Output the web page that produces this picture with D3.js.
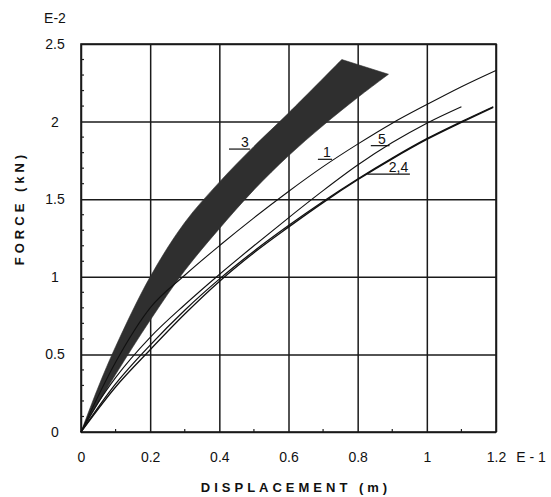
<!DOCTYPE html>
<html>
<head>
<meta charset="utf-8">
<script src="https://cdn.jsdelivr.net/npm/d3@7"></script>
<style>
	body { margin: 0; background: #fff; }
	svg text { font-family: "Liberation Sans", Arial, sans-serif; fill: #111; }
</style>
</head>
<body>
<div id="chart"></div>
<script>
// displacement in E-1 m, force in E-2 kN (as printed on the axes)
const xTicks = [0, 0.2, 0.4, 0.6, 0.8, 1, 1.2]
const xTickLabels = ["0", "0.2", "0.4", "0.6", "0.8", "1", "1.2"]
const yTicks = [0, 0.5, 1, 1.5, 2, 2.5]
const yTickLabels = ["0", "0.5", "1", "1.5", "2", "2.5"]

// curve 3 is a shaded band: upper and lower edges
const band3Upper = [[0, 0], [0.05, 0.29], [0.1, 0.55], [0.2, 1.0], [0.3, 1.35], [0.4, 1.61], [0.5, 1.84], [0.6, 2.055], [0.754, 2.40]]
const band3Lower = [[0, 0], [0.1, 0.37], [0.2, 0.72], [0.3, 1.04], [0.4, 1.31], [0.5, 1.56], [0.6, 1.78], [0.7, 1.975], [0.8, 2.155], [0.889, 2.305]]

const curve1 = [[0, 0], [0.1, 0.45], [0.2, 0.80], [0.3, 1.01], [0.4, 1.2], [0.5, 1.38], [0.6, 1.55], [0.7, 1.71], [0.8, 1.855], [0.9, 1.99], [1.0, 2.11], [1.1, 2.225], [1.2, 2.33]]
const curve5 = [[0, 0], [0.05, 0.19], [0.1, 0.35], [0.2, 0.61], [0.3, 0.82], [0.4, 1.015], [0.5, 1.20], [0.6, 1.38], [0.7, 1.555], [0.8, 1.72], [0.9, 1.865], [1.0, 1.99], [1.1, 2.096]]
const curve2 = [[0, 0], [0.1, 0.31], [0.2, 0.56], [0.3, 0.785], [0.4, 0.985], [0.5, 1.165], [0.6, 1.33], [0.7, 1.485], [0.8, 1.63], [0.9, 1.765], [1.0, 1.89], [1.1, 2.0], [1.192, 2.096]]
const curve4 = [[0, 0], [0.1, 0.29], [0.2, 0.53], [0.3, 0.76], [0.4, 0.97], [0.5, 1.155], [0.6, 1.32], [0.7, 1.478], [0.8, 1.625], [0.9, 1.76], [1.0, 1.885], [1.1, 1.995], [1.192, 2.092]]

// label text, leader line from x0 to x1 at force f, text centred at tx
const curveLabels = [
	{ text: "3", x0: 0.428, x1: 0.489, f: 1.823, tx: 0.474 },
	{ text: "1", x0: 0.685, x1: 0.726, f: 1.757, tx: 0.711 },
	{ text: "5", x0: 0.838, x1: 0.892, f: 1.845, tx: 0.870 },
	{ text: "2,4", x0: 0.828, x1: 0.951, f: 1.662, tx: 0.918 }
]

const svg = d3.select("#chart").append("svg")
	.attr("width", 551)
	.attr("height", 497)

const xs = d3.scaleLinear().domain([0, 1.2]).range([81, 496])
const ys = d3.scaleLinear().domain([0, 2.5]).range([432, 44])

// minor ticks inside the frame
const xMinor = d3.range(1, 12, 2).map(d => d / 10)
const yMinor = d3.range(1, 25).map(d => d / 10).filter(d => Math.abs(d * 2 - Math.round(d * 2)) > 1e-6)

svg.append("g").selectAll("line")
	.data(xMinor).enter().append("line")
		.attr("x1", d => xs(d)).attr("x2", d => xs(d))
		.attr("y1", ys(0)).attr("y2", ys(0) - 3)
		.attr("stroke", "#222").attr("stroke-width", 1.2)

svg.append("g").selectAll("line")
	.data(yMinor).enter().append("line")
		.attr("x1", xs(0)).attr("x2", xs(0) + 3)
		.attr("y1", d => ys(d)).attr("y2", d => ys(d))
		.attr("stroke", "#222").attr("stroke-width", 1.2)

// grid + tick labels
const xAxis = svg.append("g")
	.attr("transform", "translate(0," + ys(0) + ")")
	.call(d3.axisBottom(xs)
		.tickValues(xTicks)
		.tickSize(-(ys(0) - ys(2.5)))
		.tickPadding(20)
		.tickFormat((d, i) => xTickLabels[i]))
xAxis.select(".domain").remove()

const yAxis = svg.append("g")
	.attr("transform", "translate(" + xs(0) + ",0)")
	.call(d3.axisLeft(ys)
		.tickValues(yTicks)
		.tickSize(-(xs(1.2) - xs(0)))
		.tickPadding(20)
		.tickFormat((d, i) => yTickLabels[i]))
yAxis.select(".domain").remove()

svg.selectAll(".tick line").attr("stroke", "#1a1a1a").attr("stroke-width", 1.5)
svg.selectAll(".tick text")
	.attr("font-size", 14)
	.attr("fill", "#111")
	.style("font-family", "'Liberation Sans', Arial, sans-serif")
yAxis.selectAll(".tick text").attr("text-anchor", "middle").attr("x", 55 - xs(0))

// frame
svg.append("rect")
	.attr("x", xs(0)).attr("y", ys(2.5))
	.attr("width", xs(1.2) - xs(0)).attr("height", ys(0) - ys(2.5))
	.attr("fill", "none").attr("stroke", "#1a1a1a").attr("stroke-width", 1.6)

// band 3
const edge = d3.line().x(d => xs(d[0])).y(d => ys(d[1])).curve(d3.curveCatmullRom)
const upperPath = edge(band3Upper)
const lowerPath = edge(band3Lower.slice().reverse())
svg.append("path")
	.attr("d", upperPath + "L" + lowerPath.substring(1) + "Z")
	.attr("fill", "#2f2f2f")
	.attr("stroke", "#2f2f2f")
	.attr("stroke-width", 0.6)

const curveLine = d3.line().x(d => xs(d[0])).y(d => ys(d[1])).curve(d3.curveMonotoneX)

const curves = [
	{ pts: curve1, w: 1.1 },
	{ pts: curve5, w: 1.1 },
	{ pts: curve2, w: 1.3 },
	{ pts: curve4, w: 1.3 }
]
svg.append("g").selectAll("path")
	.data(curves).enter().append("path")
		.attr("d", d => curveLine(d.pts))
		.attr("fill", "none")
		.attr("stroke", "#111")
		.attr("stroke-width", d => d.w)

// curve labels with leader lines
const lab = svg.append("g").selectAll("g")
	.data(curveLabels).enter().append("g")
lab.append("line")
	.attr("x1", d => xs(d.x0)).attr("x2", d => xs(d.x1))
	.attr("y1", d => ys(d.f)).attr("y2", d => ys(d.f))
	.attr("stroke", "#111").attr("stroke-width", 1.2)
lab.append("text")
	.attr("x", d => xs(d.tx))
	.attr("y", d => ys(d.f) - 2)
	.attr("text-anchor", "middle")
	.attr("font-size", 14)
	.text(d => d.text)

// exponents and axis titles
svg.append("text")
	.attr("x", 55).attr("y", 23)
	.attr("text-anchor", "middle")
	.attr("font-size", 14)
	.text("E-2")

svg.append("text")
	.attr("x", 531).attr("y", 462)
	.attr("text-anchor", "middle")
	.attr("font-size", 14)
	.style("white-space", "pre")
	.text("E - 1")

svg.append("text")
	.attr("x", 296).attr("y", 492)
	.attr("text-anchor", "middle")
	.attr("font-size", 13)
	.attr("font-weight", "bold")
	.attr("letter-spacing", 4)
	.style("white-space", "pre")
	.text("DISPLACEMENT (m)")

svg.append("text")
	.attr("transform", "translate(24,208) rotate(-90)")
	.attr("text-anchor", "middle")
	.attr("font-size", 13)
	.attr("font-weight", "bold")
	.attr("letter-spacing", 4)
	.style("white-space", "pre")
	.text("FORCE (kN)")
</script>
</body>
</html>
